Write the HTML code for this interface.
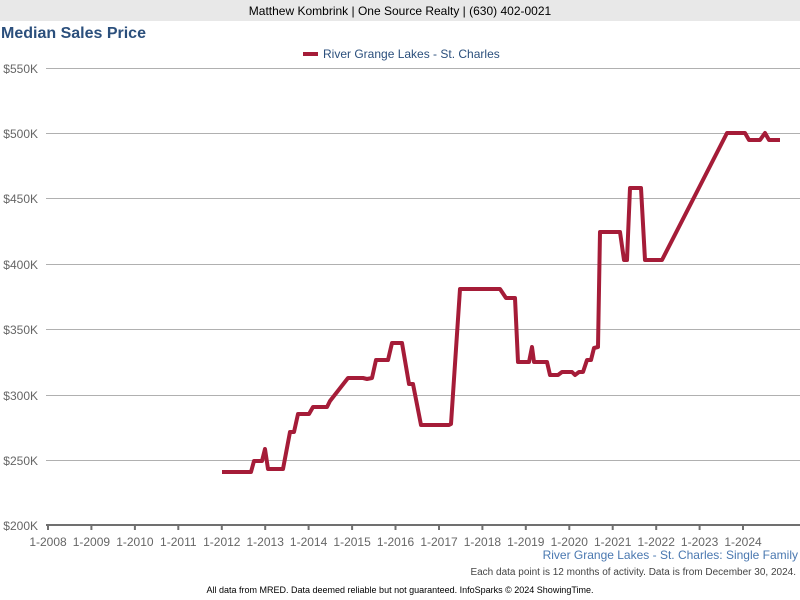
<!DOCTYPE html>
<html><head><style>
body{margin:0;width:800px;height:600px;background:#fff;font-family:"Liberation Sans",Arial,sans-serif;overflow:hidden;position:relative}
.hdr{position:absolute;left:0;top:0;width:800px;height:21px;background:#e8e8e8;text-align:center;font-size:12px;line-height:22px;color:#000}
.t{position:absolute;left:1px;top:25px;font-size:16px;font-weight:bold;color:#2b4f7c}
</style></head><body>
<div class="hdr">Matthew Kombrink | One Source Realty | (630) 402-0021</div>
<div class="t">Median Sales Price</div>
<svg width="800" height="600" style="position:absolute;left:0;top:0" font-family="Liberation Sans, Arial, sans-serif">
<line x1="303" y1="54" x2="318" y2="54" stroke="#a51c38" stroke-width="4"/>
<text x="323" y="58" font-size="12" fill="#2b4f7c">River Grange Lakes - St. Charles</text>
<g stroke="#b0b0b0" stroke-width="1">
<line x1="46" y1="68.5" x2="800" y2="68.5"/><line x1="46" y1="133.5" x2="800" y2="133.5"/>
<line x1="46" y1="198.5" x2="800" y2="198.5"/><line x1="46" y1="264.5" x2="800" y2="264.5"/>
<line x1="46" y1="329.5" x2="800" y2="329.5"/><line x1="46" y1="395.5" x2="800" y2="395.5"/>
<line x1="46" y1="460.5" x2="800" y2="460.5"/>
</g>
<line x1="46" y1="525" x2="800" y2="525" stroke="#707070" stroke-width="2"/>
<g stroke="#707070" stroke-width="2">
<line x1="48" y1="525" x2="48" y2="530"/><line x1="91.4" y1="525" x2="91.4" y2="530"/><line x1="134.9" y1="525" x2="134.9" y2="530"/><line x1="178.3" y1="525" x2="178.3" y2="530"/><line x1="221.8" y1="525" x2="221.8" y2="530"/><line x1="265.2" y1="525" x2="265.2" y2="530"/><line x1="308.6" y1="525" x2="308.6" y2="530"/><line x1="352.1" y1="525" x2="352.1" y2="530"/><line x1="395.5" y1="525" x2="395.5" y2="530"/><line x1="439" y1="525" x2="439" y2="530"/><line x1="482.4" y1="525" x2="482.4" y2="530"/><line x1="525.8" y1="525" x2="525.8" y2="530"/><line x1="569.3" y1="525" x2="569.3" y2="530"/><line x1="612.7" y1="525" x2="612.7" y2="530"/><line x1="656.2" y1="525" x2="656.2" y2="530"/><line x1="699.6" y1="525" x2="699.6" y2="530"/><line x1="743" y1="525" x2="743" y2="530"/>
</g>
<g font-size="12" fill="#666" text-anchor="end">
<text x="38" y="73">$550K</text><text x="38" y="138">$500K</text><text x="38" y="203">$450K</text><text x="38" y="269">$400K</text><text x="38" y="334">$350K</text><text x="38" y="400">$300K</text><text x="38" y="465">$250K</text><text x="38" y="530">$200K</text>
</g>
<g font-size="12" fill="#666" text-anchor="middle">
<text x="48" y="546">1-2008</text><text x="91.4" y="546">1-2009</text><text x="134.9" y="546">1-2010</text><text x="178.3" y="546">1-2011</text><text x="221.8" y="546">1-2012</text><text x="265.2" y="546">1-2013</text><text x="308.6" y="546">1-2014</text><text x="352.1" y="546">1-2015</text><text x="395.5" y="546">1-2016</text><text x="439" y="546">1-2017</text><text x="482.4" y="546">1-2018</text><text x="525.8" y="546">1-2019</text><text x="569.3" y="546">1-2020</text><text x="612.7" y="546">1-2021</text><text x="656.2" y="546">1-2022</text><text x="699.6" y="546">1-2023</text><text x="743" y="546">1-2024</text>
</g>
<polyline fill="none" stroke="#a51c38" stroke-width="4" stroke-linejoin="round" points="222,472 251,472 254,461 262,461 265,449 268,469 283,469 290,432 294,432 298,414 309,414 313,407 327,407 330,401 348,378 363,378 367,379 372,378 376,360 388,360 392,343 402,343 409,384 413,384 421,425 449,425 451,424 460,289 500,289 506,298 515,298 518,362 529,362 532,347 534,362 547,362 550,375 558,375 562,372 572,372 575,375 579,372 583,372 587,360 591,360 594,348 598,347 600,232 620,232 624,260 627,260 630,188 641,188 645,260 662,260 727,133 745,133 749,140 760,140 765,133 769,140 780,140"/>
<text x="798" y="559" font-size="12" fill="#4a78b0" text-anchor="end">River Grange Lakes - St. Charles: Single Family</text>
<text x="796" y="575" font-size="10" fill="#444" text-anchor="end">Each data point is 12 months of activity. Data is from December 30, 2024.</text>
<text x="400" y="593" font-size="9" fill="#000" text-anchor="middle">All data from MRED. Data deemed reliable but not guaranteed. InfoSparks © 2024 ShowingTime.</text>
</svg>
</body></html>
